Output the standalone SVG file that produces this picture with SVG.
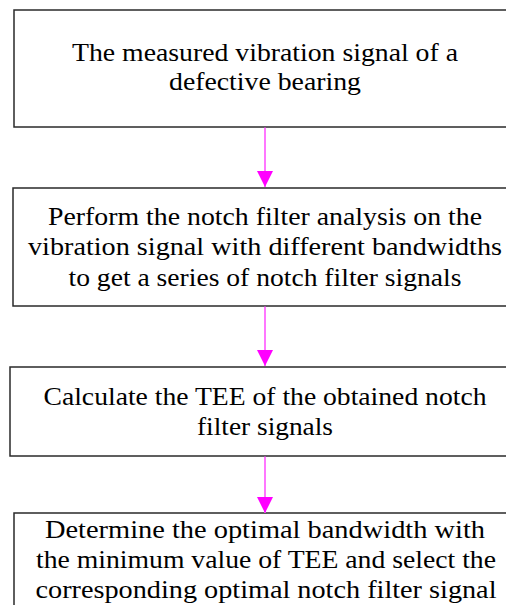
<svg xmlns="http://www.w3.org/2000/svg" width="506" height="605" viewBox="0 0 506 605">
  <defs>
    <style>
      .box { fill: #ffffff; stroke: #2a2a2a; stroke-width: 1.5; }
      .lbl { font-family: 'Liberation Serif', 'DejaVu Serif', serif; font-size: 24.5px; fill: #000000; text-anchor: middle; }
      .link { stroke: #ff55ff; stroke-width: 1.6; fill: none; }
    </style>
    <marker id="arrowhead" markerWidth="16" markerHeight="16" viewBox="0 0 16 16" refX="16" refY="8" orient="auto" markerUnits="userSpaceOnUse">
      <path d="M0,0 L16,8 L0,16 Z" fill="#ff00ff"/>
    </marker>
  </defs>
  <rect width="506" height="605" fill="#ffffff"/>

  <g id="node-signal">
    <rect class="box" x="14" y="10" width="504" height="117"/>
    <text class="lbl" x="265" y="61" textLength="386" lengthAdjust="spacingAndGlyphs">The measured vibration signal of a</text>
    <text class="lbl" x="265" y="90" textLength="192" lengthAdjust="spacingAndGlyphs">defective bearing</text>
  </g>

  <g id="node-notch">
    <rect class="box" x="13" y="188" width="506" height="118"/>
    <text class="lbl" x="265" y="225" textLength="434" lengthAdjust="spacingAndGlyphs">Perform the notch filter analysis on the</text>
    <text class="lbl" x="265" y="255" textLength="474" lengthAdjust="spacingAndGlyphs">vibration signal with different bandwidths</text>
    <text class="lbl" x="265" y="286" textLength="393" lengthAdjust="spacingAndGlyphs">to get a series of notch filter signals</text>
  </g>

  <g id="node-tee">
    <rect class="box" x="10" y="367" width="512" height="89"/>
    <text class="lbl" x="265" y="405" textLength="443" lengthAdjust="spacingAndGlyphs">Calculate the TEE of the obtained notch</text>
    <text class="lbl" x="265" y="435" textLength="136" lengthAdjust="spacingAndGlyphs">filter signals</text>
  </g>

  <g id="node-optimal">
    <rect class="box" x="14" y="513" width="504" height="110"/>
    <text class="lbl" x="265" y="538" textLength="440" lengthAdjust="spacingAndGlyphs">Determine the optimal bandwidth with</text>
    <text class="lbl" x="266" y="568" textLength="460" lengthAdjust="spacingAndGlyphs">the minimum value of TEE and select the</text>
    <text class="lbl" x="266" y="598" textLength="461" lengthAdjust="spacingAndGlyphs">corresponding optimal notch filter signal</text>
  </g>

  <g id="connectors">
    <line class="link" x1="265" y1="127.5" x2="265" y2="187" marker-end="url(#arrowhead)"/>
    <line class="link" x1="265" y1="306.5" x2="265" y2="366" marker-end="url(#arrowhead)"/>
    <line class="link" x1="265" y1="456.5" x2="265" y2="513" marker-end="url(#arrowhead)"/>
  </g>
</svg>
